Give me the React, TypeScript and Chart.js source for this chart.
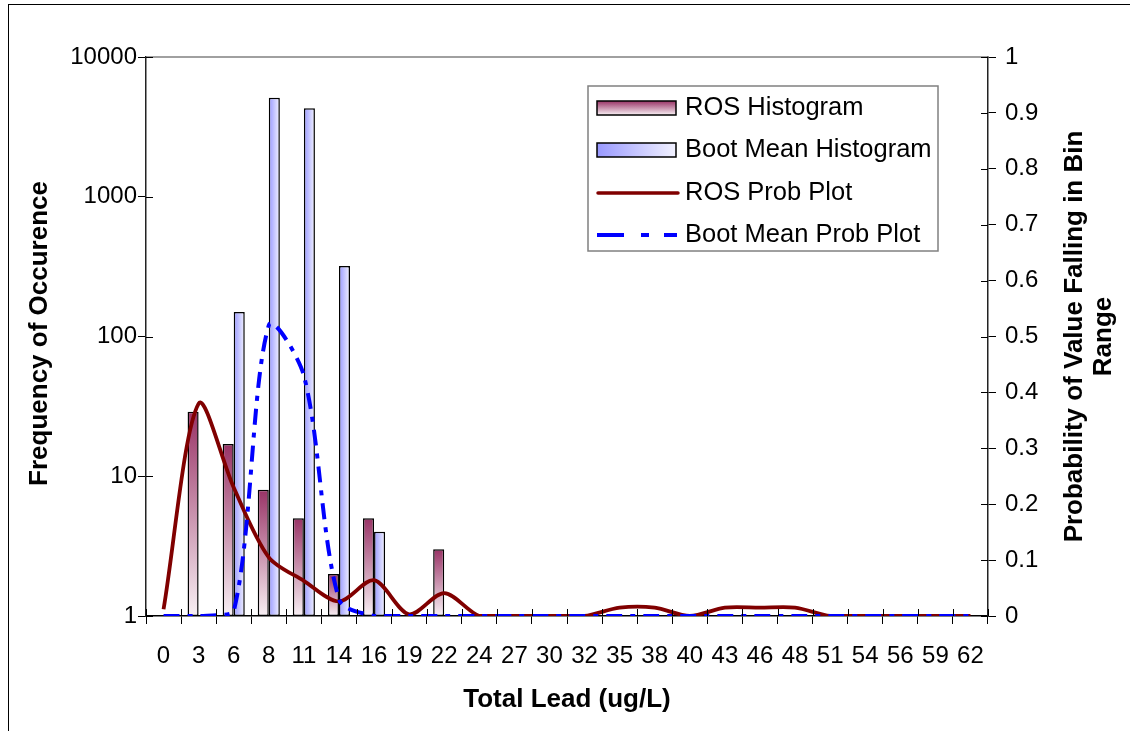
import React, { useEffect, useRef } from 'react';
import { Chart, registerables } from 'chart.js';

Chart.register(...registerables);

const categories = ['0', '3', '6', '8', '11', '14', '16', '19', '22', '24', '27', '30', '32', '35', '38', '40', '43', '46', '48', '51', '54', '56', '59', '62'];

const rosHistogram = [null, 29, 17, 8, 5, 2, 5, null, 3, null, null, null, null, null, null, null, null, null, null, null, null, null, null, null];
const bootMeanHistogram = [null, null, 150, 5100, 4300, 320, 4, null, null, null, null, null, null, null, null, null, null, null, null, null, null, null, null, null];
const rosProbPlot = [0.012, 0.38, 0.23, 0.105, 0.063, 0.026, 0.064, 0.003, 0.041, 0, 0, 0, 0, 0.015, 0.015, 0, 0.015, 0.015, 0.015, 0, 0, 0, 0, 0];
const bootMeanProbPlot = [0, 0, 0.008, 0.52, 0.43, 0.03, 0, 0, 0, 0, 0, 0, 0, 0, 0, 0, 0, 0, 0, 0, 0, 0, 0, 0];

const freqTicks = [1, 10, 100, 1000, 10000];
const probTicks = [0, 0.1, 0.2, 0.3, 0.4, 0.5, 0.6, 0.7, 0.8, 0.9, 1];

const seriesNames = ['ROS Histogram', 'Boot Mean Histogram', 'ROS Prob Plot', 'Boot Mean Prob Plot'];
const xTitle = 'Total Lead (ug/L)';
const yTitle = 'Frequency of Occurence';
const y1Title = ['Probability of Value Falling in Bin', 'Range'];

const FONT = "'Liberation Sans', Arial, Helvetica, sans-serif";
const ROS_LINE = '#800000';
const BOOT_LINE = '#0000ff';
const BOOT_DASH = [16, 8, 5, 8];

function rosGradient(ctx: CanvasRenderingContext2D, top: number, bottom: number) {
  const g = ctx.createLinearGradient(0, top, 0, bottom);
  g.addColorStop(0, '#993366');
  g.addColorStop(1, '#f8f0f4');
  return g;
}
function bootGradient(ctx: CanvasRenderingContext2D, left: number, right: number) {
  const g = ctx.createLinearGradient(left, 0, right, 0);
  g.addColorStop(0, '#9999ff');
  g.addColorStop(1, '#f2f2ff');
  return g;
}

const overlay = {
  id: 'overlay',
  beforeDatasetsDraw(chart: any) {
    const ctx = chart.ctx as CanvasRenderingContext2D;
    chart.data.datasets.forEach((ds: any, di: number) => {
      const meta = chart.getDatasetMeta(di);
      if (meta.type !== 'bar') return;
      meta.data.forEach((el: any) => {
        const p = el.getProps(['x', 'y', 'base', 'width'], true);
        if (![p.x, p.y, p.base, p.width].every((v: number) => Number.isFinite(v))) return;
        if (!el.options) return;
        el.options.backgroundColor = ds.fillMode === 'vertical'
          ? rosGradient(ctx, Math.min(p.y, p.base), Math.max(p.y, p.base))
          : bootGradient(ctx, p.x - p.width / 2, p.x + p.width / 2);
      });
    });
  },
  afterDraw(chart: any) {
    const ctx = chart.ctx as CanvasRenderingContext2D;
    const area = chart.chartArea;
    const xs = chart.scales.x;
    const ys = chart.scales.y;
    const y1 = chart.scales.y1;
    ctx.save();
    // top border of plot area
    ctx.strokeStyle = '#808080';
    ctx.lineWidth = 1.5;
    ctx.beginPath();
    ctx.moveTo(area.left, area.top);
    ctx.lineTo(area.right, area.top);
    ctx.stroke();
    // inward tick stubs
    ctx.strokeStyle = '#000';
    ctx.lineWidth = 1;
    ctx.beginPath();
    for (let i = 0; i <= categories.length; i++) {
      const px = Math.round(xs.getPixelForValue(i - 0.5)) + 0.5;
      ctx.moveTo(px, area.bottom);
      ctx.lineTo(px, area.bottom - 7);
    }
    freqTicks.forEach((v) => {
      const py = Math.round(ys.getPixelForValue(v)) + 0.5;
      ctx.moveTo(area.left, py);
      ctx.lineTo(area.left + 7, py);
    });
    probTicks.forEach((v) => {
      const py = Math.round(y1.getPixelForValue(v)) + 0.5;
      ctx.moveTo(area.right, py);
      ctx.lineTo(area.right - 7, py);
    });
    ctx.stroke();

    // axis titles
    ctx.fillStyle = '#000';
    ctx.font = `bold 26px ${FONT}`;
    ctx.textAlign = 'center';
    ctx.textBaseline = 'middle';
    ctx.fillText(xTitle, (area.left + area.right) / 2, 700);
    ctx.save();
    ctx.translate(40, (area.top + area.bottom) / 2 - 3);
    ctx.rotate(-Math.PI / 2);
    ctx.fillText(yTitle, 0, 0);
    ctx.restore();
    ctx.save();
    ctx.translate(1075, (area.top + area.bottom) / 2);
    ctx.rotate(-Math.PI / 2);
    y1Title.forEach((t, i) => ctx.fillText(t, 0, i * 29));
    ctx.restore();

    // legend
    const lx = 588, ly = 86, lw = 350, lh = 165;
    ctx.fillStyle = '#fff';
    ctx.fillRect(lx, ly, lw, lh);
    ctx.strokeStyle = '#808080';
    ctx.lineWidth = 1.5;
    ctx.strokeRect(lx, ly, lw, lh);
    const rowY = [108, 150, 193, 235];
    const sx = 597, sw = 79, sh = 14;
    // ROS histogram swatch
    ctx.fillStyle = rosGradient(ctx, rowY[0] - sh / 2, rowY[0] + sh / 2);
    ctx.fillRect(sx, rowY[0] - sh / 2, sw, sh);
    ctx.strokeStyle = '#000';
    ctx.lineWidth = 1.5;
    ctx.strokeRect(sx, rowY[0] - sh / 2, sw, sh);
    // Boot histogram swatch
    ctx.fillStyle = bootGradient(ctx, sx, sx + sw);
    ctx.fillRect(sx, rowY[1] - sh / 2, sw, sh);
    ctx.strokeRect(sx, rowY[1] - sh / 2, sw, sh);
    // ROS line
    ctx.strokeStyle = ROS_LINE;
    ctx.lineWidth = 3.5;
    ctx.lineCap = 'round';
    ctx.beginPath();
    ctx.moveTo(sx + 1, rowY[2]);
    ctx.lineTo(sx + 81, rowY[2]);
    ctx.stroke();
    // Boot line
    ctx.lineCap = 'butt';
    ctx.strokeStyle = BOOT_LINE;
    ctx.lineWidth = 4;
    ctx.setLineDash([27, 17, 8, 15]);
    ctx.beginPath();
    ctx.moveTo(sx, rowY[3]);
    ctx.lineTo(sx + 80, rowY[3]);
    ctx.stroke();
    ctx.setLineDash([]);
    // texts
    ctx.fillStyle = '#000';
    ctx.font = `25.5px ${FONT}`;
    ctx.textAlign = 'left';
    ctx.textBaseline = 'middle';
    const names = chart.data.datasets.map((d: any) => d.label);
    seriesNames.forEach((n, i) => {
      if (names.includes(n)) ctx.fillText(n, 685, rowY[i]);
    });
    ctx.restore();
  },
};

export default function App() {
  const ref = useRef<HTMLCanvasElement>(null);
  useEffect(() => {
    if (!ref.current) return;
    const tickFont = { family: FONT, size: 24 };
    const chart = new Chart(ref.current, {
      type: 'bar',
      data: {
        labels: categories,
        datasets: [
          {
            type: 'line',
            label: seriesNames[3],
            data: bootMeanProbPlot,
            yAxisID: 'y1',
            borderColor: BOOT_LINE,
            borderWidth: 4,
            borderDash: BOOT_DASH,
            pointRadius: 0,
            tension: 0.3,
            fill: false,
            clip: 0,
            order: 0,
          } as any,
          {
            type: 'line',
            label: seriesNames[2],
            data: rosProbPlot,
            yAxisID: 'y1',
            borderColor: ROS_LINE,
            borderWidth: 3.8,
            pointRadius: 0,
            tension: 0.3,
            fill: false,
            clip: 0,
            order: 1,
          } as any,
          {
            type: 'bar',
            label: seriesNames[0],
            data: rosHistogram,
            yAxisID: 'y',
            fillMode: 'vertical',
            backgroundColor: () => '#993366',
            borderColor: '#000',
            borderWidth: 1.5,
            borderSkipped: false,
            categoryPercentage: 0.63,
            barPercentage: 1,
            order: 2,
          } as any,
          {
            type: 'bar',
            label: seriesNames[1],
            data: bootMeanHistogram,
            yAxisID: 'y',
            fillMode: 'horizontal',
            backgroundColor: () => '#9999ff',
            borderColor: '#000',
            borderWidth: 1.5,
            borderSkipped: false,
            categoryPercentage: 0.63,
            barPercentage: 1,
            order: 2,
          } as any,
        ],
      },
      options: {
        responsive: false,
        animation: false,
        devicePixelRatio: 1,
        layout: { padding: { top: 57, left: 0, right: 0, bottom: 0 } },
        plugins: { legend: { display: false }, tooltip: { enabled: false } },
        scales: {
          x: {
            type: 'category',
            offset: true,
            grid: { display: true, drawOnChartArea: false, drawTicks: true, tickLength: 8, color: '#000', offset: true, lineWidth: 1 },
            border: { display: true, color: '#000', width: 1.5 },
            ticks: { font: tickFont, color: '#000', padding: 18, maxRotation: 0, autoSkip: false },
            afterFit: (s: any) => { s.height = 731 - 616; },
          },
          y: {
            type: 'logarithmic',
            position: 'left',
            min: 1,
            max: 10000,
            afterBuildTicks: (s: any) => { s.ticks = freqTicks.map((v) => ({ value: v, major: true })); },
            grid: { display: true, drawOnChartArea: false, drawTicks: true, tickLength: 8, color: '#000', lineWidth: 1 },
            border: { display: true, color: '#222', width: 1.5 },
            ticks: { font: tickFont, color: '#000', padding: 1, callback: (v: any) => String(v) },
            afterFit: (s: any) => { s.width = 146; },
          },
          y1: {
            type: 'linear',
            position: 'right',
            min: 0,
            max: 1,
            afterBuildTicks: (s: any) => { s.ticks = probTicks.map((v) => ({ value: v })); },
            grid: { display: true, drawOnChartArea: false, drawTicks: true, tickLength: 8, color: '#000', lineWidth: 1 },
            border: { display: true, color: '#222', width: 1.5 },
            ticks: { font: tickFont, color: '#000', padding: 9, callback: (v: any) => String(v) },
            afterFit: (s: any) => { s.width = 1130 - 988; },
          },
        },
      } as any,
      plugins: [overlay],
    });
    return () => chart.destroy();
  }, []);

  return (
    <div style={{ position: 'absolute', left: 0, top: 0, width: 1130, height: 731, overflow: 'hidden', background: '#fff' }}>
      <div style={{ position: 'absolute', left: 8, top: 4, width: 1200, height: 800, border: '1px solid #000' }} />
      <canvas ref={ref} width={1130} height={731} style={{ position: 'absolute', left: 0, top: 0, width: 1130, height: 731 }} />
    </div>
  );
}
